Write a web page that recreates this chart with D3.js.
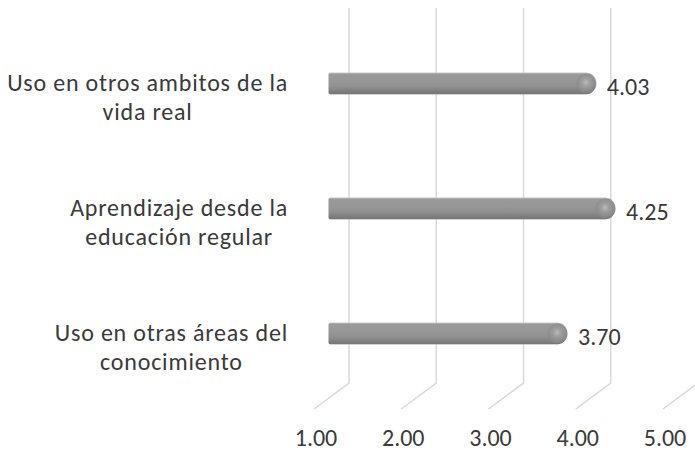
<!DOCTYPE html>
<html><head><meta charset="utf-8">
<script src="https://cdn.jsdelivr.net/npm/d3@7"></script>
<style>body{margin:0;background:#fff}svg{display:block}</style>
</head><body>
<svg id="c" width="695" height="452"></svg>
<script>
const categories = [
  ["Uso en otros ambitos de la", "vida real"],
  ["Aprendizaje desde la", "educación regular"],
  ["Uso en otras áreas del", "conocimiento"]
];
const values = [4.03, 4.25, 3.70];
const tickValues = [1, 2, 3, 4, 5];
const tickLabels = ["1.00", "2.00", "3.00", "4.00", "5.00"];

const svg = d3.select("#c");
const FONT = "Carlito, Lato, 'Liberation Sans', sans-serif";
const textColor = "#3a3a3a";

// depth offset (back wall -> front plane)
const dX = -35, dY = 26;
const xBack = d3.scaleLinear().domain([1, 5]).range([349, 698]);
const xMid = v => xBack(v) + dX / 2;
const xFront = v => xBack(v) + dX;
const yBackTop = 8, yBackBottom = 383;
const y = d3.scaleBand().domain(categories.map((c, i) => i))
  .range([yBackTop + dY / 2, yBackBottom + dY / 2]).padding(0);
const barH = 22;

const defs = svg.append("defs");
const g1 = defs.append("linearGradient").attr("id", "body").attr("x1", 0).attr("y1", 0).attr("x2", 0).attr("y2", 1);
[[0, "#c8c8c8"], [0.08, "#9a9a9a"], [0.4, "#979797"], [0.65, "#909090"], [0.88, "#7c7c7c"], [0.96, "#777777"], [1, "#a8a8a8"]]
  .forEach(([o, c]) => g1.append("stop").attr("offset", o).attr("stop-color", c));
const g2 = defs.append("radialGradient").attr("id", "cap").attr("cx", 0.5).attr("cy", 0.45).attr("r", 0.6);
[[0, "#c2c2c2"], [0.35, "#a0a0a0"], [0.8, "#8a8a8a"], [1, "#7a7a7a"]]
  .forEach(([o, c]) => g2.append("stop").attr("offset", o).attr("stop-color", c));

// gridlines (back wall + floor)
const grid = svg.append("g");
tickValues.forEach(v => {
  const xb = xBack(v);
  grid.append("path")
    .attr("d", `M${xb},${yBackTop}L${xb},${yBackBottom}L${xb + dX},${yBackBottom + dY}`)
    .attr("fill", "none").attr("stroke", "#d9d9d9").attr("stroke-width", 1.5);
});

// bars
const bars = svg.append("g");
values.forEach((v, i) => {
  const cy = y(i) + y.bandwidth() / 2;
  const x0 = xMid(1) - 3, x1 = xMid(v) + 1;
  const r = barH / 2;
  const gb = bars.append("g");
  gb.append("path")
    .attr("d", `M${x0 + 2},${cy - r}L${x1 - r},${cy - r}L${x1 - r},${cy + r}L${x0 + 2},${cy + r}Q${x0},${cy + r} ${x0},${cy + r - 2}L${x0},${cy - r + 2}Q${x0},${cy - r} ${x0 + 2},${cy - r}Z`)
    .attr("fill", "url(#body)");
  gb.append("path")
    .attr("d", `M${x1 - r - 0.5},${cy - r}A${r},${r} 0 0 1 ${x1 - r - 0.5},${cy + r}Z`)
    .attr("fill", "url(#body)");
  gb.append("ellipse")
    .attr("cx", x1 - r).attr("cy", cy).attr("rx", r - 1.5).attr("ry", r - 1)
    .attr("fill", "url(#cap)").attr("opacity", 0.8);
  svg.append("text")
    .attr("x", x1 + 10).attr("y", cy + 11)
    .attr("font-family", FONT).attr("font-size", 24).attr("fill", textColor)
    .text(v.toFixed(2));
});

// category labels (each line its own text element)
const labelRight = 288;
categories.forEach((lines, i) => {
  const cy = y(i) + y.bandwidth() / 2;
  const texts = lines.map((l, k) => svg.append("text")
    .attr("font-family", FONT).attr("font-size", 24).attr("letter-spacing", 0.8)
    .attr("fill", textColor).attr("text-anchor", "middle")
    .attr("y", cy + 7 + k * 29).text(l));
  const w = d3.max(texts, s => s.node().getComputedTextLength());
  texts.forEach(s => s.attr("x", labelRight - w / 2));
});

// tick labels
tickValues.forEach((v, i) => {
  svg.append("text").attr("x", xFront(v) + 2).attr("y", 446)
    .attr("text-anchor", "middle").attr("font-family", FONT).attr("font-size", 24)
    .attr("fill", textColor).text(tickLabels[i]);
});
</script>
</body></html>
